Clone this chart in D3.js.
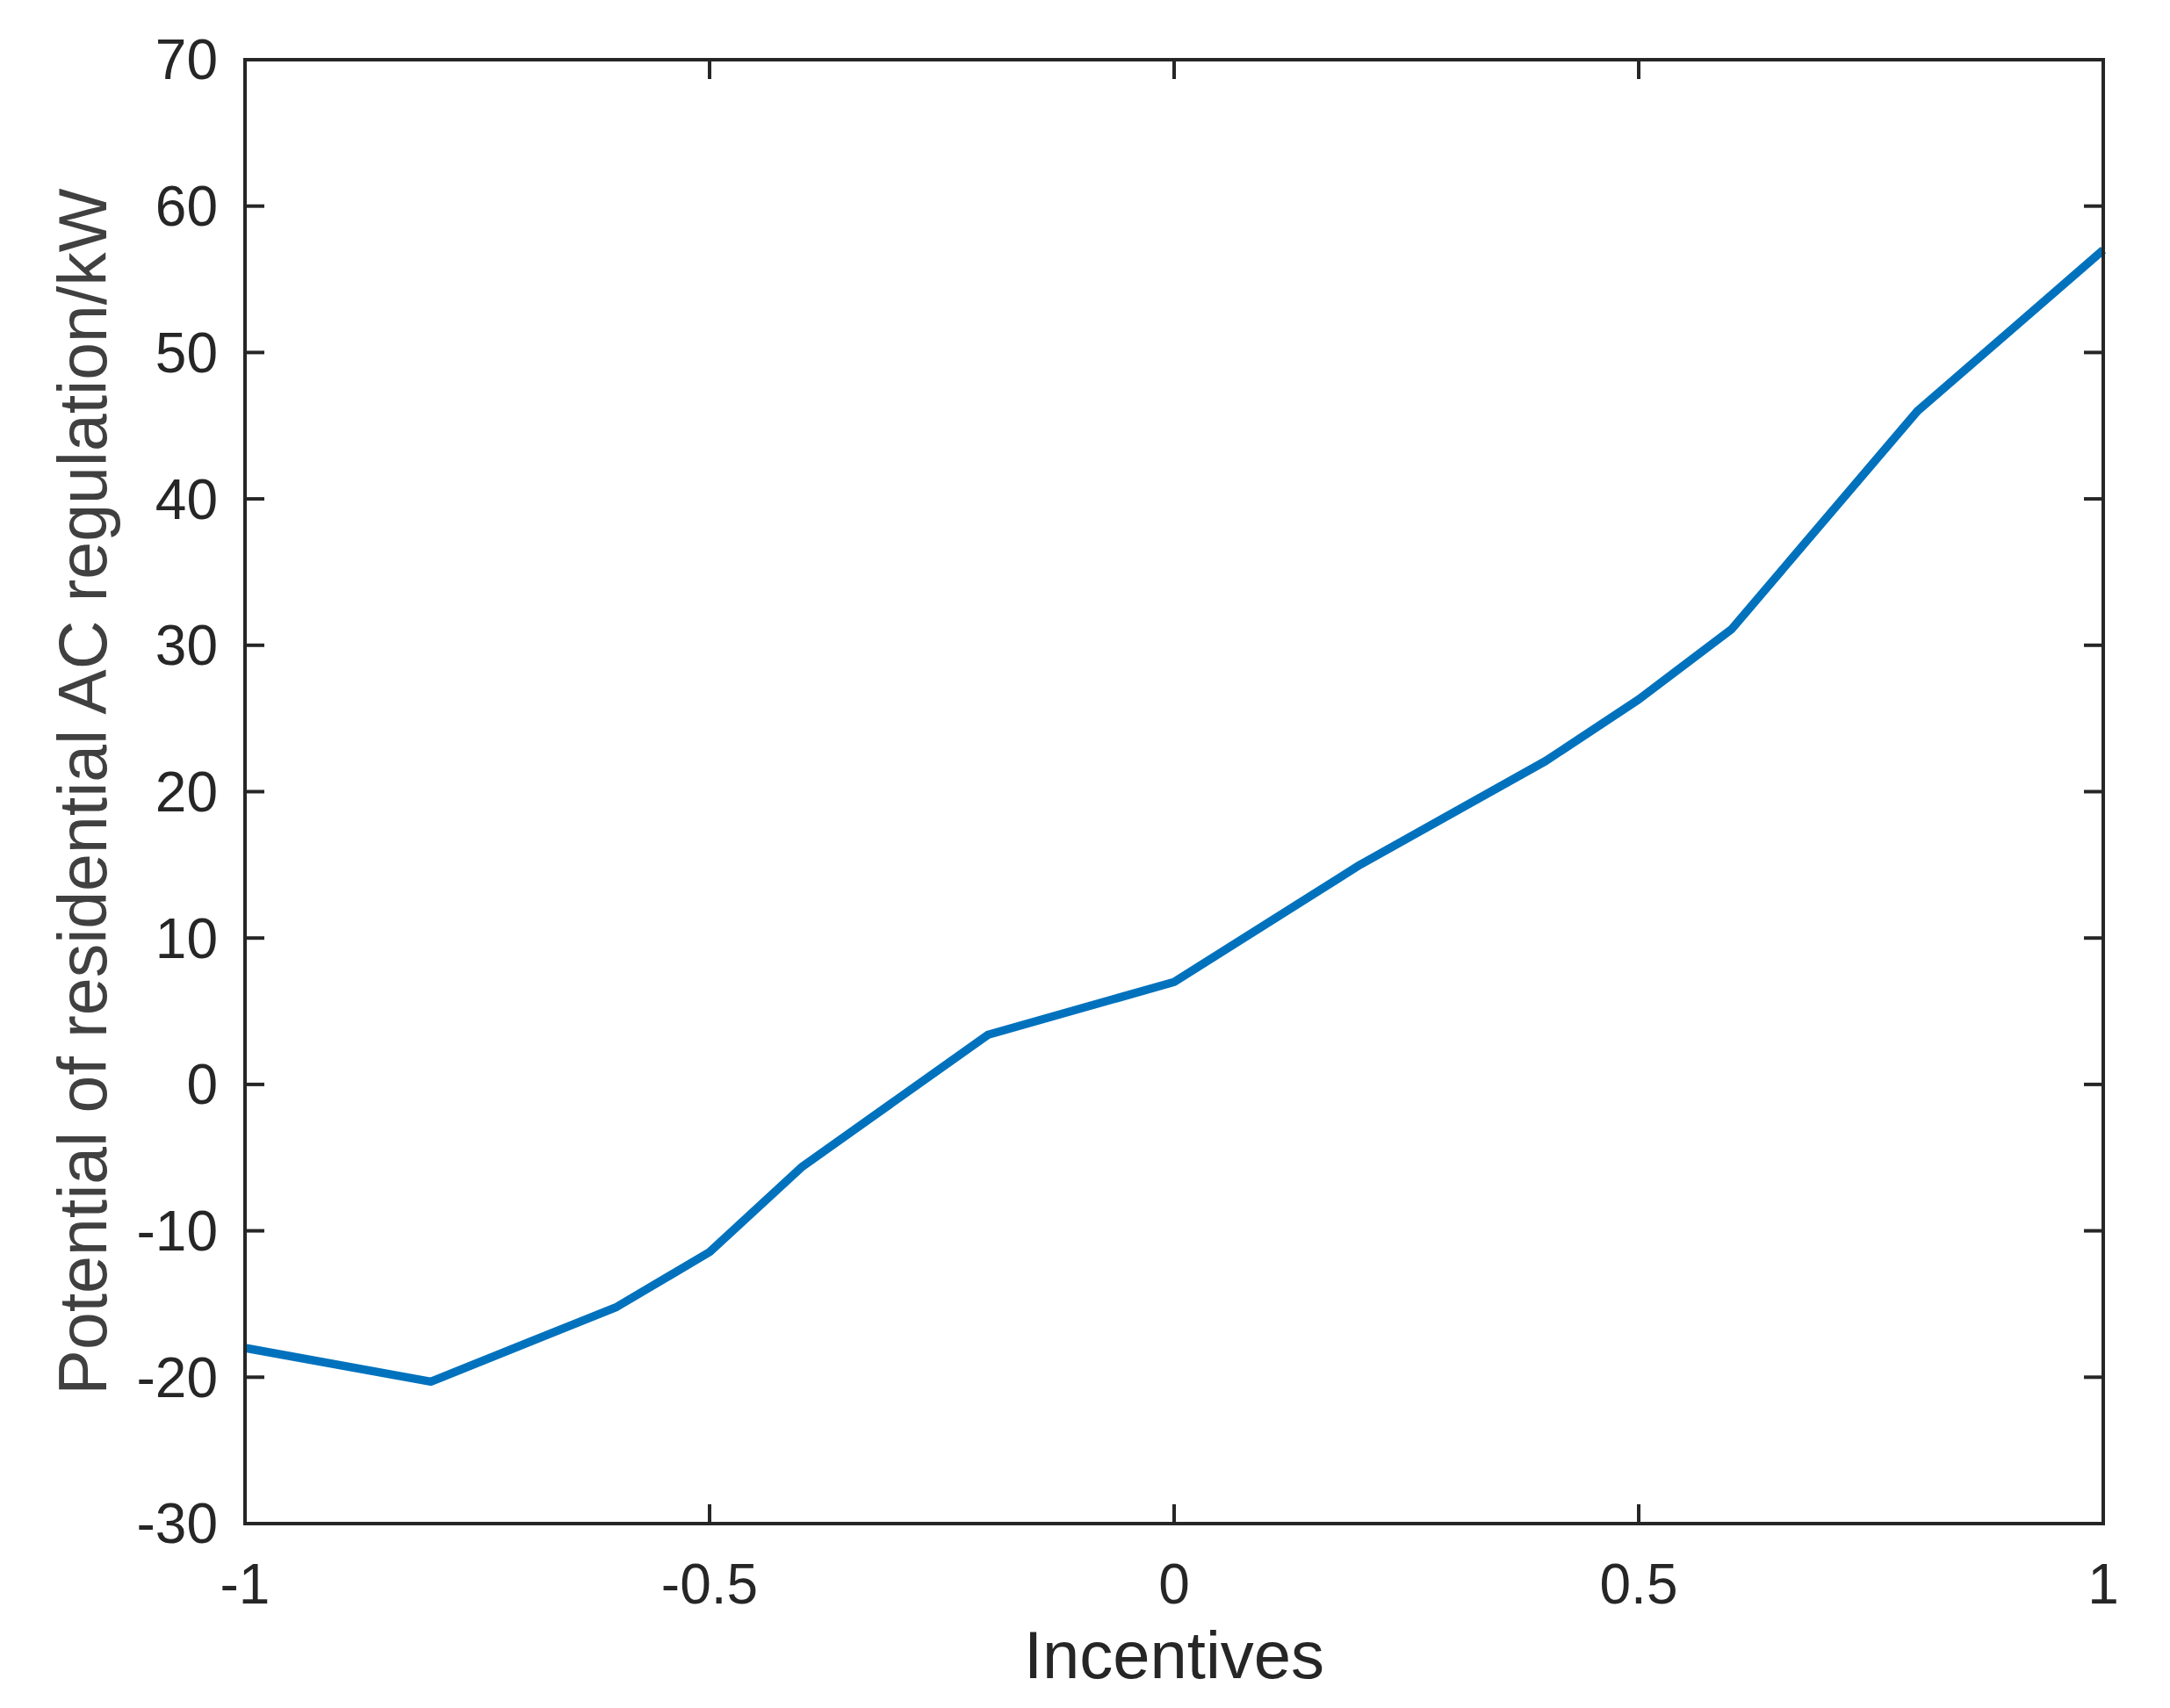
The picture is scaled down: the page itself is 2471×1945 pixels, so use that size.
<!DOCTYPE html>
<html>
<head>
<meta charset="utf-8">
<script src="https://cdn.jsdelivr.net/npm/d3@7"></script>
<style>
  html, body { margin: 0; padding: 0; background: #fff; }
  svg { display: block; }
  text { font-family: "Liberation Sans", Arial, Helvetica, sans-serif; }
</style>
</head>
<body>
<script>
// ---- data ----
const incentives = [-1, -0.8, -0.6, -0.5, -0.4, -0.2, 0, 0.2, 0.4, 0.5, 0.6, 0.8, 1];
const potential  = [-18.0, -20.3, -15.2, -11.45, -5.6, 3.4, 7.0, 15.0, 22.1, 26.3, 31.1, 46.0, 57.0];
const xTicks = [-1, -0.5, 0, 0.5, 1];
const yTicks = [-30, -20, -10, 0, 10, 20, 30, 40, 50, 60, 70];
const xLabel = "Incentives";
const yLabel = "Potential of residential AC regulation/kW";

// ---- layout ----
const W = 2471, H = 1945;
const pL = 279, pR = 2395, pT = 68, pB = 1735;
const axisColor = "#262626";
const tickLen = 22;

const svg = d3.select("body").append("svg").attr("width", W).attr("height", H);

const x = d3.scaleLinear().domain([-1, 1]).range([pL, pR]);
const y = d3.scaleLinear().domain([-30, 70]).range([pB, pT]);

// line
const line = d3.line().x((d, i) => x(incentives[i])).y(d => y(d));
svg.append("path")
  .datum(potential)
  .attr("d", line)
  .attr("fill", "none")
  .attr("stroke", "#0072BD")
  .attr("stroke-width", 9.5)
  .attr("stroke-linejoin", "round")
  .attr("stroke-linecap", "butt");

// ticks (inward, all four sides)
const tg = svg.append("g").attr("stroke", axisColor).attr("stroke-width", 4);
xTicks.forEach(t => {
  tg.append("line").attr("x1", x(t)).attr("x2", x(t)).attr("y1", pB).attr("y2", pB - tickLen);
  tg.append("line").attr("x1", x(t)).attr("x2", x(t)).attr("y1", pT).attr("y2", pT + tickLen);
});
yTicks.forEach(t => {
  tg.append("line").attr("x1", pL).attr("x2", pL + tickLen).attr("y1", y(t)).attr("y2", y(t));
  tg.append("line").attr("x1", pR).attr("x2", pR - tickLen).attr("y1", y(t)).attr("y2", y(t));
});

// box
svg.append("rect")
  .attr("x", pL).attr("y", pT)
  .attr("width", pR - pL).attr("height", pB - pT)
  .attr("fill", "none").attr("stroke", axisColor).attr("stroke-width", 4)
  .attr("stroke-linecap", "square");

// tick labels
const fmt = d => (d < 0 ? "-" : "") + String(Math.abs(d));
svg.append("g").selectAll("text").data(xTicks).join("text")
  .attr("x", d => x(d)).attr("y", 1826)
  .attr("text-anchor", "middle")
  .attr("font-size", 64).attr("fill", axisColor)
  .text(fmt);

svg.append("g").selectAll("text").data(yTicks).join("text")
  .attr("x", 248).attr("y", d => y(d))
  .attr("dy", "0.35em")
  .attr("text-anchor", "end")
  .attr("font-size", 64).attr("fill", axisColor)
  .text(fmt);

// axis labels
svg.append("text")
  .attr("x", (pL + pR) / 2).attr("y", 1911)
  .attr("text-anchor", "middle")
  .attr("font-size", 76).attr("fill", axisColor)
  .text(xLabel);

svg.append("text")
  .attr("transform", `translate(121, ${(pT + pB) / 2}) rotate(-90)`)
  .attr("text-anchor", "middle")
  .attr("font-size", 77).attr("fill", "#404040")
  .text(yLabel);
</script>
</body>
</html>
